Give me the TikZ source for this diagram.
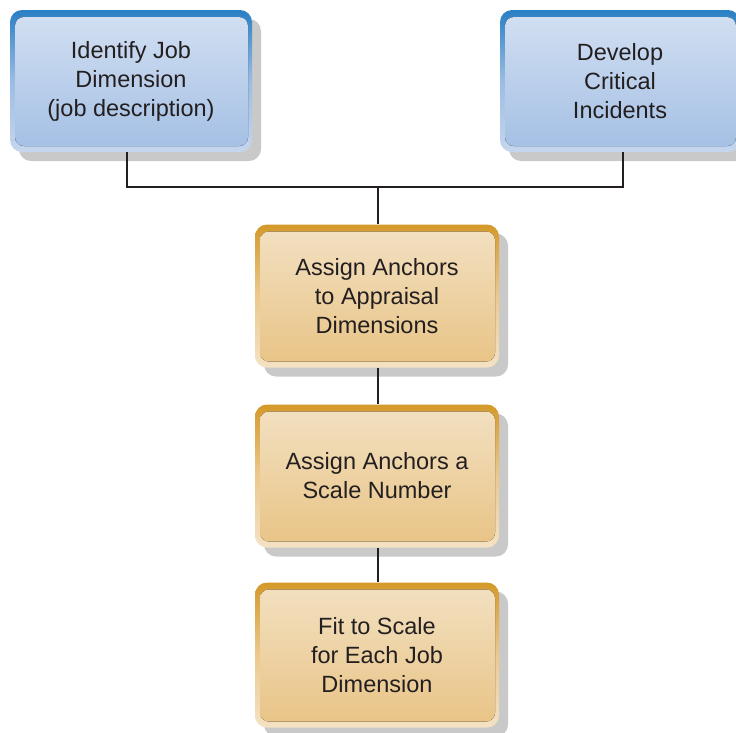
\documentclass[tikz,border=0pt]{standalone}
\usepackage{fontspec}
\setmainfont{Liberation Sans}
\usetikzlibrary{shadows}
\definecolor{txt}{HTML}{231F20}
\definecolor{bluetop}{HTML}{2A7FC4}
\definecolor{bluemid}{HTML}{9CBCE4}
\definecolor{bluebot}{HTML}{C6D6EE}
\definecolor{blueintop}{HTML}{D3E0F2}
\definecolor{blueinbot}{HTML}{A3BFE4}
\definecolor{ortop}{HTML}{D4992A}
\definecolor{ormid}{HTML}{EBC98E}
\definecolor{orbot}{HTML}{F3E2C4}
\definecolor{orintop}{HTML}{F3E1C3}
\definecolor{orinbot}{HTML}{E8C384}
\definecolor{shade}{HTML}{C9C9C9}
\tikzset{
  box/.style={rounded corners=12pt, align=center, text=txt,
    font=\fontsize{23.5}{29}\selectfont, inner sep=0pt,
    drop shadow={shadow xshift=9pt, shadow yshift=-9pt, fill=shade, opacity=1}},
  bluebox/.style={box, minimum width=242pt, minimum height=142pt,
    top color=bluetop, bottom color=bluebot, middle color=bluemid,
    path picture={\fill[rounded corners=9pt, top color=blueintop, bottom color=blueinbot]
      ([xshift=5pt,yshift=-7pt]path picture bounding box.north west) rectangle
      ([xshift=-4pt,yshift=6pt]path picture bounding box.south east);}},
  orbox/.style={box, minimum width=244pt,
    top color=ortop, bottom color=orbot, middle color=ormid,
    path picture={\fill[rounded corners=9pt, top color=orintop, bottom color=orinbot]
      ([xshift=5pt,yshift=-7pt]path picture bounding box.north west) rectangle
      ([xshift=-4pt,yshift=6pt]path picture bounding box.south east);}},
  link/.style={draw=txt, line width=1.8pt}
}
\begin{document}
\begin{tikzpicture}[x=1pt,y=-1pt]
\useasboundingbox (0,0) rectangle (736,732);
\begin{scope}
\clip (0,0) rectangle (736,732);
\node[bluebox] (a) at (131,81) {Identify Job\\Dimension\\(job description)};
\node[bluebox, minimum width=240pt] (b) at (620,81) {Develop\\Critical\\Incidents};
\coordinate (j) at (378,187);
\coordinate (ja) at (127,187);
\coordinate (jb) at (623,187);
\draw[link] (a.south -| ja) -- (ja) -- (jb) -- (b.south -| jb);
\node[orbox, minimum height=143pt] (c) at (377,296) {Assign Anchors\\to Appraisal\\Dimensions};
\node[orbox, minimum height=143pt] (d) at (377,476) {Assign Anchors a\\Scale Number};
\node[orbox, minimum height=145pt] (e) at (377,655) {Fit to Scale\\for Each Job\\Dimension};
\draw[link] (j) -- (c.north -| j);
\draw[link] (c.south -| j) -- (d.north -| j);
\draw[link] (d.south -| j) -- (e.north -| j);
\end{scope}
\end{tikzpicture}
\end{document}
